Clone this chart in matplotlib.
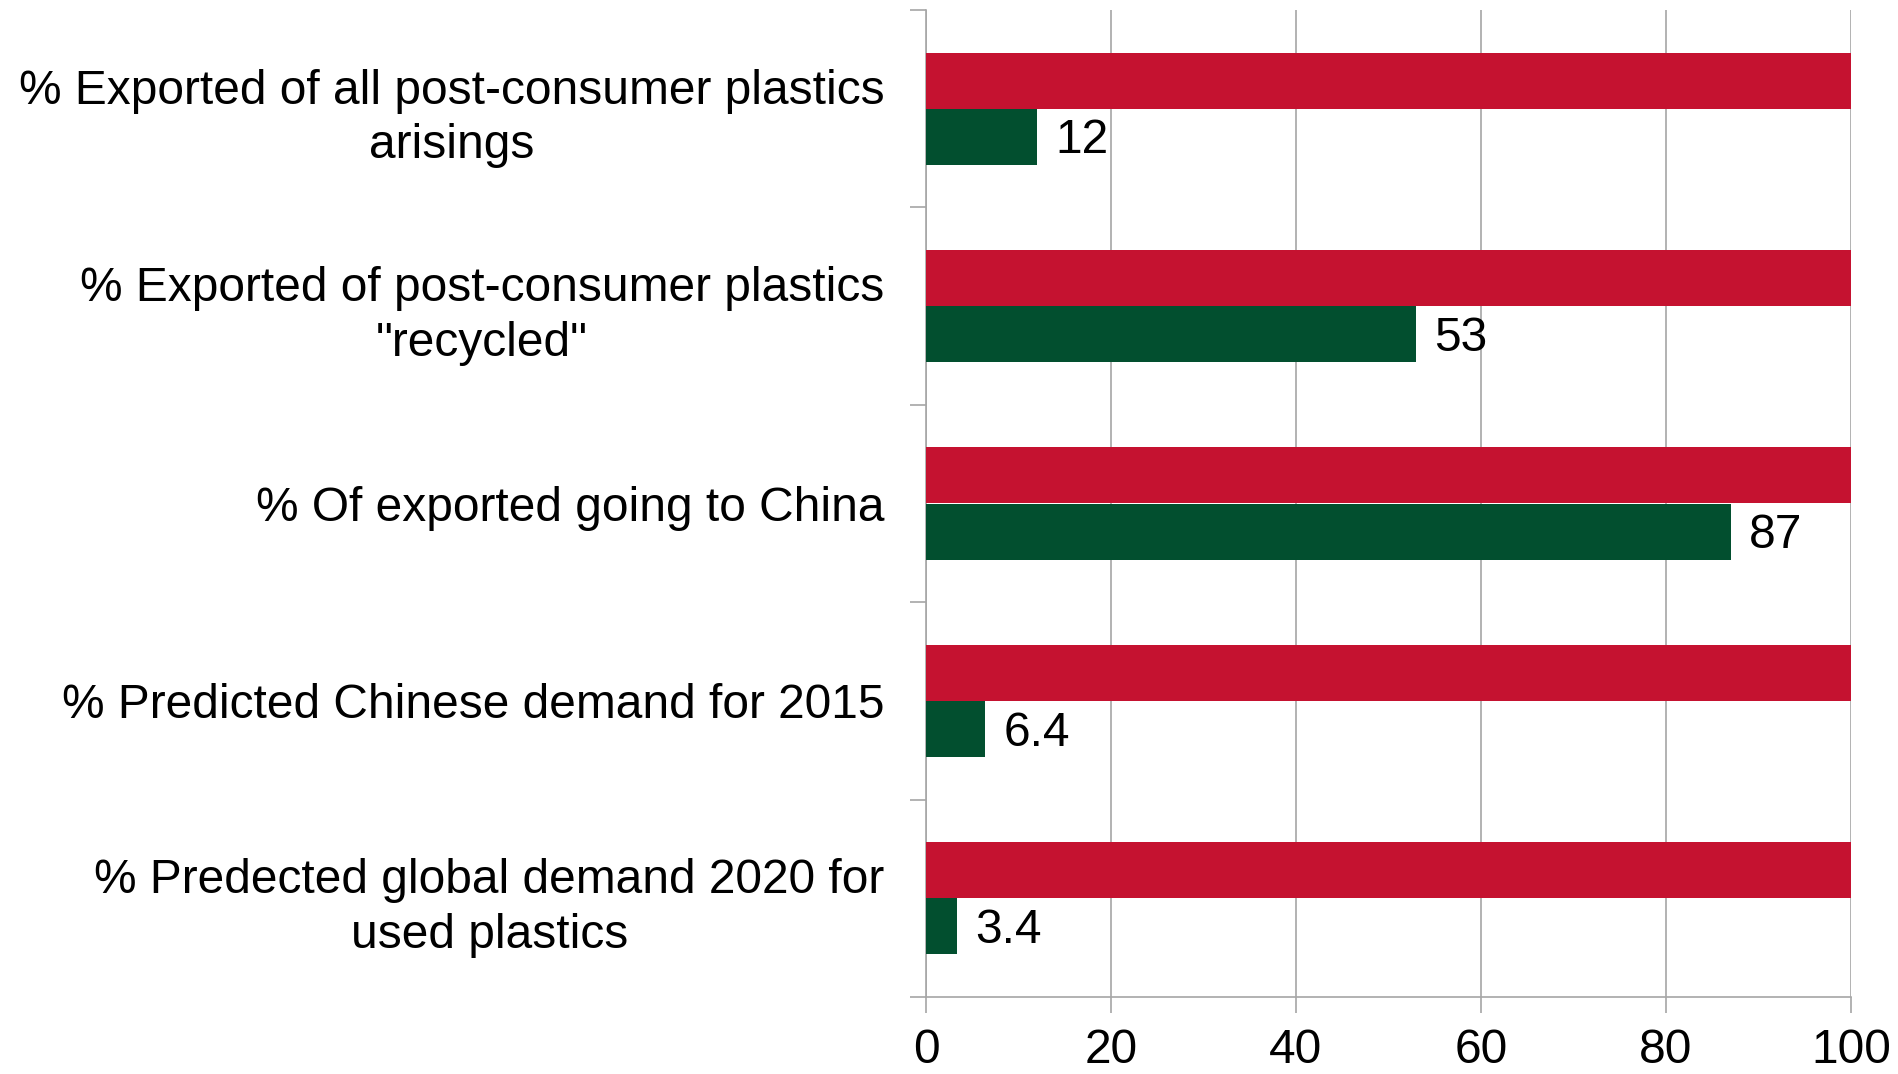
import matplotlib
matplotlib.use("Agg")
import matplotlib.pyplot as plt
import numpy as np

categories = [
    "% Exported of all post-consumer plastics\narisings",
    "% Exported of post-consumer plastics\n\"recycled\"",
    "% Of exported going to China",
    "% Predicted Chinese demand for 2015",
    "% Predected global demand 2020 for\nused plastics",
]
total_values = [100, 100, 100, 100, 100]
share_values = [12, 53, 87, 6.4, 3.4]
x_ticks = [0, 20, 40, 60, 80, 100]

RED = "#C51230"
GREEN = "#024F2F"
GRID = "#A6A6A6"

plt.rcParams['font.family'] = ['Liberation Sans', 'DejaVu Sans']

fig = plt.figure(figsize=(18.99, 10.74), dpi=100)
ax = fig.add_axes([926/1899, 1 - 997/1074, (1851-926)/1899, (997-10)/1074])

n = len(categories)
pos = np.arange(n)
h = 0.284
ax.barh(pos - h/2, total_values, height=h, color=RED, zorder=3)
ax.barh(pos + h/2, share_values, height=h, color=GREEN, zorder=3)

for p, v in zip(pos, share_values):
    ax.annotate(f"{v:g}", xy=(v, p + h/2), xytext=(13, -3), textcoords="offset points",
                ha="left", va="center", fontsize=34.5, color="black", zorder=4)

ax.set_xlim(0, 100)
ax.set_ylim(n - 0.5, -0.5)
ax.set_xticks(x_ticks)
ax.set_xticklabels([str(t) for t in x_ticks], fontsize=34.5)
ax.set_yticks(pos)
ax.set_yticklabels(categories, fontsize=34.5, linespacing=1.28, ha="right")
for lbl in ax.get_yticklabels():
    lbl.set_multialignment("center")
ax.set_yticks(np.arange(n + 1) - 0.5, minor=True)

ax.tick_params(axis="y", which="major", length=0, pad=30)
ax.tick_params(axis="y", which="minor", length=11.5, width=1.2, color=GRID, direction="out")
ax.tick_params(axis="x", which="major", length=11.5, width=1.2, color=GRID, direction="out", pad=11)

ax.grid(axis="x", color=GRID, linewidth=1.2, zorder=0)
for s in ["top", "right"]:
    ax.spines[s].set_visible(False)
for s in ["left", "bottom"]:
    ax.spines[s].set_color(GRID)
    ax.spines[s].set_linewidth(1.2)

fig.savefig("out.png", dpi=100)
